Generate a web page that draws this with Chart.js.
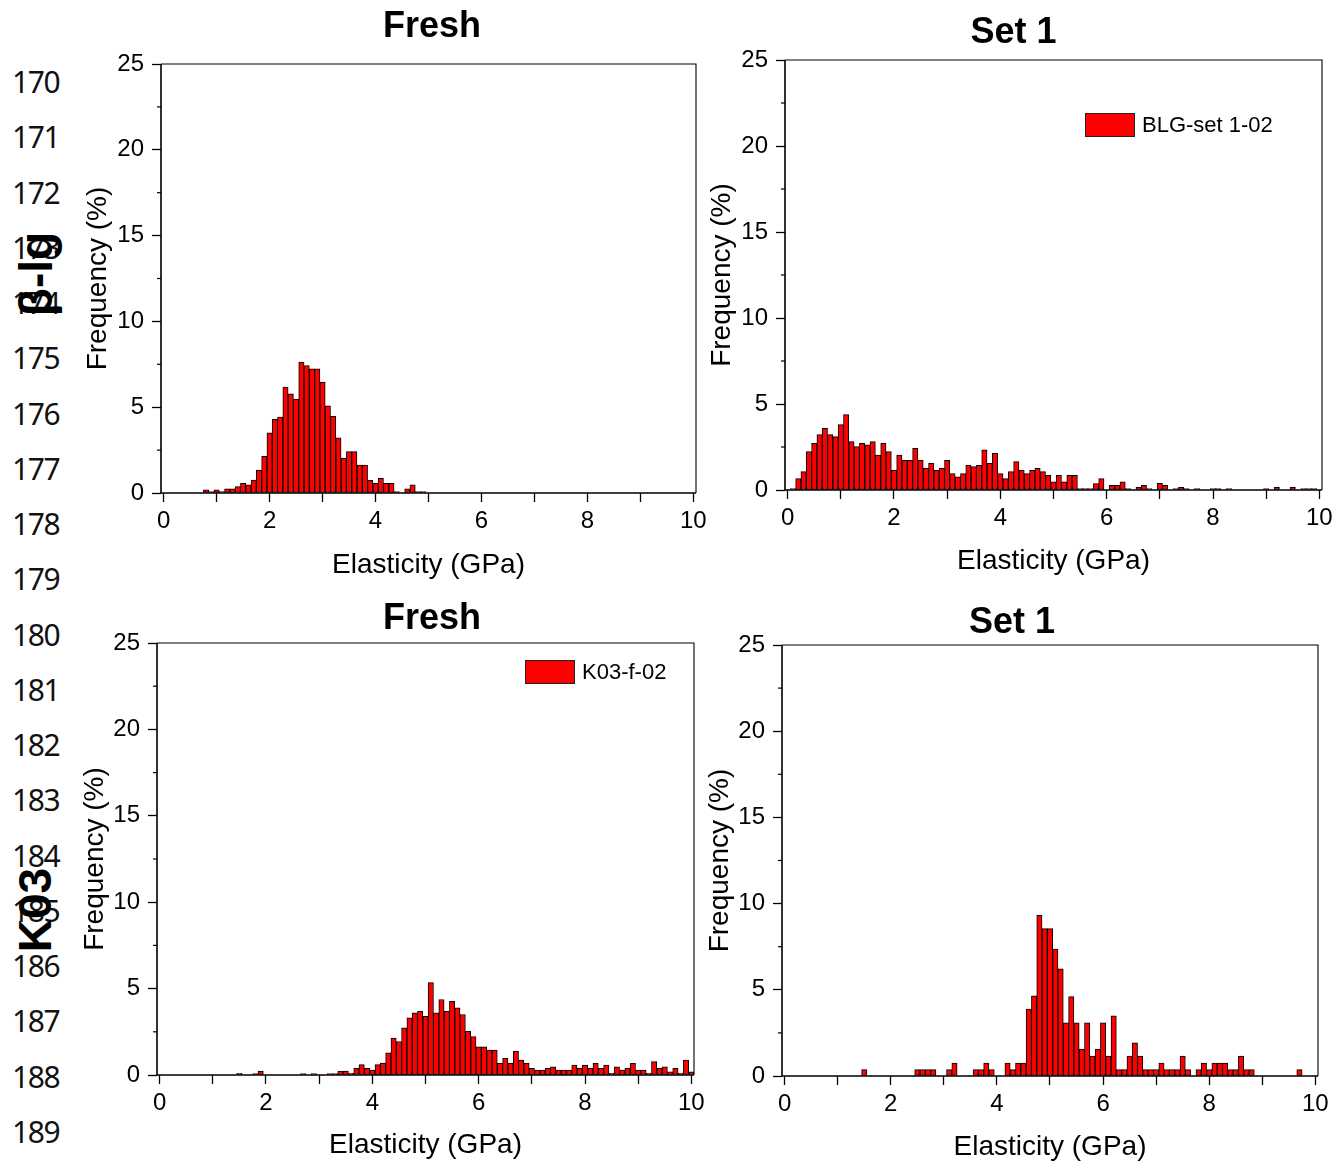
<!DOCTYPE html>
<html>
<head>
<meta charset="utf-8">
<script src="https://cdn.jsdelivr.net/npm/chart.js@4.4.1/dist/chart.umd.min.js"></script>
<style>
  html, body { margin: 0; padding: 0; background: #fff; }
  body { width: 1334px; height: 1162px; position: relative; overflow: hidden; font-family: "Liberation Sans", Arial, sans-serif; }
  .ln { position: absolute; left: 12px; font-family: "Noto Sans", sans-serif; font-size: 30px; line-height: 30px; letter-spacing: -1.4px; color: #111; }
  .tag { position: absolute; font-weight: bold; font-size: 46px; line-height: 46px; white-space: nowrap; transform: translate(-50%, -50%) rotate(-90deg); }
  canvas { position: absolute; }
</style>
</head>
<body>
<div id="lines"></div>
<div class="tag" style="left:36px;top:274px">β-lg</div>
<div class="tag" style="left:35px;top:910px">K03</div>
<canvas id="c1"></canvas>
<canvas id="c2"></canvas>
<canvas id="c3"></canvas>
<canvas id="c4"></canvas>
<script>
// histogram bins are 0.1 GPa wide; each list starts at the centre of its first bin
const freshBlgStart = 0.8;
const freshBlg = [0.18, 0.08, 0.18, 0.08, 0.25, 0.25, 0.37, 0.56, 0.47, 0.76,
  1.34, 2.14, 3.5, 4.3, 4.42, 6.17, 5.78, 5.47, 7.63, 7.43,
  7.24, 7.24, 6.46, 5.08, 4.47, 3.21, 2.04, 2.41, 2.41, 1.63,
  1.63, 0.74, 0.56, 0.86, 0.56, 0.56, 0.08, 0, 0.25, 0.47,
  0.08, 0.08];

const set1BlgStart = 0.1;
const set1Blg = [0.08, 0.66, 1.07, 2.23, 2.71, 3.22, 3.59, 3.22, 3.1, 3.8,
  4.38, 2.81, 2.52, 2.71, 2.62, 2.81, 2.03, 2.71, 2.23, 1.14,
  2.03, 1.72, 1.72, 2.42, 1.72, 1.26, 1.55, 1.14, 1.26, 1.72,
  0.95, 0.76, 0.95, 1.43, 1.36, 1.43, 2.33, 1.55, 2.13, 0.95,
  0.66, 1.07, 1.65, 1.14, 0.95, 1.14, 1.26, 1.07, 0.85, 0.47,
  0.85, 0.47, 0.85, 0.85, 0.08, 0.08, 0.08, 0.37, 0.66, 0,
  0.27, 0.27, 0.47, 0.08, 0, 0.16, 0.27, 0.08, 0, 0.39,
  0.27, 0, 0.08, 0.16, 0.08, 0, 0.08, 0, 0, 0.08,
  0.08, 0, 0.08, 0, 0, 0, 0, 0, 0, 0.08,
  0, 0.16, 0, 0, 0.16, 0, 0.08, 0.08, 0.08];

const freshK03Start = 1.5;
const freshK03 = [0.1, 0, 0, 0.08, 0.23, 0, 0, 0, 0, 0,
  0, 0, 0.08, 0, 0.08, 0, 0, 0.08, 0.08, 0.23,
  0.23, 0.1, 0.38, 0.6, 0.38, 0.29, 0.6, 0.69, 1.29, 2.13,
  1.94, 2.73, 3.31, 3.6, 3.69, 3.4, 5.35, 3.6, 4.37, 3.69,
  4.27, 3.88, 3.5, 2.52, 2.23, 1.63, 1.63, 1.44, 1.44, 0.67,
  0.96, 0.67, 1.37, 0.87, 0.67, 0.38, 0.29, 0.29, 0.38, 0.48,
  0.29, 0.29, 0.29, 0.58, 0.38, 0.58, 0.38, 0.67, 0.38, 0.58,
  0.1, 0.48, 0.29, 0.38, 0.67, 0.29, 0.29, 0.1, 0.77, 0.38,
  0.48, 0.19, 0.38, 0.1, 0.87, 0.19];

const set1K03Start = 1.5;
const set1K03 = [0.37, 0, 0, 0, 0, 0, 0, 0, 0, 0,
  0.37, 0.37, 0.37, 0.37, 0, 0, 0.37, 0.75, 0, 0,
  0, 0.37, 0.37, 0.75, 0.37, 0, 0, 0.75, 0.37, 0.75,
  0.75, 3.88, 4.65, 9.32, 8.55, 8.55, 7.36, 6.22, 3.09, 4.6,
  3.09, 1.54, 3.09, 1.16, 1.54, 3.09, 1.16, 3.49, 0.37, 0.37,
  1.16, 1.93, 1.16, 0.37, 0.37, 0.37, 0.75, 0.37, 0.37, 0.37,
  1.16, 0.37, 0, 0.37, 0.75, 0.37, 0.75, 0.75, 0.75, 0.37,
  0.37, 1.16, 0.37, 0.37, 0, 0, 0, 0, 0, 0,
  0, 0, 0.37];

const xTickValues = [0, 1, 2, 3, 4, 5, 6, 7, 8, 9, 10];
const yTickValues = [0, 5, 10, 15, 20, 25];
const yMinorTicks = [2.5, 7.5, 12.5, 17.5, 22.5];

// line numbers down the left margin
const lineNumbers = [170, 171, 172, 173, 174, 175, 176, 177, 178, 179,
  180, 181, 182, 183, 184, 185, 186, 187, 188, 189];
const lines = document.getElementById('lines');
lineNumbers.forEach((n, i) => {
  const d = document.createElement('div');
  d.className = 'ln';
  d.textContent = n;
  d.style.top = (82 + i * 55.25 - 15) + 'px';
  lines.appendChild(d);
});

Chart.defaults.font.family = '"Liberation Sans", Arial, sans-serif';
Chart.defaults.color = '#000';

function toPoints(start, values) {
  return values.map((v, i) => ({ x: +(start + i * 0.1).toFixed(1), y: v }));
}

// box around the plot plus the short ticks between the labelled y values
const framePlugin = {
  id: 'frame',
  afterDatasetsDraw(chart) {
    const { ctx, chartArea: a, scales: { y } } = chart;
    ctx.save();
    ctx.strokeStyle = '#000';
    ctx.lineWidth = 1.1;
    ctx.beginPath();
    ctx.moveTo(a.left, a.top);
    ctx.lineTo(a.right, a.top);
    ctx.lineTo(a.right, a.bottom);
    ctx.stroke();
    ctx.lineWidth = 1.6;
    ctx.beginPath();
    ctx.moveTo(a.left, a.top);
    ctx.lineTo(a.left, a.bottom);
    ctx.lineTo(a.right, a.bottom);
    ctx.stroke();
    ctx.lineWidth = 1.2;
    yMinorTicks.forEach(v => {
      const py = y.getPixelForValue(v);
      ctx.beginPath();
      ctx.moveTo(a.left - 4, py);
      ctx.lineTo(a.left, py);
      ctx.stroke();
    });
    ctx.restore();
  }
};

// legend swatch drawn inside the plot
const boxLegendPlugin = {
  id: 'boxLegend',
  afterDraw(chart, args, opts) {
    if (!opts || opts.dx === undefined) return;
    const { ctx, chartArea: a } = chart;
    const ds = chart.data.datasets[0];
    const bx = a.left + opts.dx, by = a.top + opts.dy;
    ctx.save();
    ctx.fillStyle = ds.backgroundColor;
    ctx.fillRect(bx, by, 50, 24);
    ctx.strokeStyle = '#222';
    ctx.lineWidth = 1;
    ctx.strokeRect(bx + 0.5, by + 0.5, 49, 23);
    ctx.fillStyle = '#000';
    ctx.font = '22px "Liberation Sans", Arial, sans-serif';
    ctx.textBaseline = 'middle';
    ctx.fillText(ds.label, bx + 57, by + 13);
    ctx.restore();
  }
};

function makePanel(cfg) {
  const canvas = document.getElementById(cfg.id);
  canvas.width = cfg.w;
  canvas.height = cfg.h;
  canvas.style.left = cfg.left + 'px';
  canvas.style.top = cfg.top + 'px';
  return new Chart(canvas, {
    type: 'bar',
    data: {
      datasets: [{
        label: cfg.label,
        data: toPoints(cfg.start, cfg.values),
        backgroundColor: '#ff0000',
        borderColor: '#000',
        borderWidth: 1,
        borderSkipped: false,
        barPercentage: 1,
        categoryPercentage: 1
      }]
    },
    options: {
      responsive: false,
      animation: false,
      events: [],
      layout: { padding: { left: 0, right: cfg.padRight, top: 0, bottom: 0 } },
      plugins: {
        legend: { display: false },
        tooltip: { enabled: false },
        title: {
          display: true,
          text: cfg.title,
          color: '#000',
          font: { size: 36, weight: 'bold' },
          padding: { top: cfg.titleTop, bottom: cfg.titleBottom }
        },
        boxLegend: cfg.legend || {}
      },
      scales: {
        x: {
          type: 'linear',
          min: -0.05,
          max: 10.05,
          offset: false,
          border: { display: false },
          grid: { drawOnChartArea: false, offset: false, tickLength: 9, tickWidth: 1.3, tickColor: '#000' },
          ticks: {
            font: { size: 24 },
            padding: 5,
            maxRotation: 0,
            autoSkip: false,
            callback: v => (v % 2 === 0 ? String(v) : '')
          },
          title: { display: true, text: 'Elasticity (GPa)', font: { size: 28 }, padding: { top: 0, bottom: 0 } },
          afterBuildTicks: s => { s.ticks = xTickValues.map(v => ({ value: v })); },
          afterFit: s => { s.height = cfg.xAxisHeight; s.paddingLeft = 0; s.paddingRight = 0; }
        },
        y: {
          min: 0,
          max: 25,
          border: { display: false },
          grid: { drawOnChartArea: false, tickLength: 9, tickWidth: 1.3, tickColor: '#000' },
          ticks: { font: { size: 24 }, padding: 8 },
          title: { display: true, text: 'Frequency (%)', font: { size: 28 }, padding: { top: 0, bottom: 0 } },
          afterBuildTicks: s => { s.ticks = yTickValues.map(v => ({ value: v })); },
          afterFit: s => { s.width = cfg.yAxisWidth; s.paddingTop = 0; s.paddingBottom = 0; }
        },
        pad: {
          type: 'linear',
          axis: 'y',
          position: 'right',
          display: false,
          afterFit: s => { s.width = cfg.padWidth; }
        }
      }
    },
    plugins: [framePlugin, boxLegendPlugin]
  });
}

makePanel({
  id: 'c1', left: 81, top: 0, w: 702, h: 582,
  yAxisWidth: 80, xAxisHeight: 89, padWidth: 87, padRight: 0,
  titleTop: 5.4, titleBottom: 15.4,
  title: 'Fresh', label: 'BLG-f', start: freshBlgStart, values: freshBlg
});

makePanel({
  id: 'c2', left: 705, top: 0, w: 629, h: 578,
  yAxisWidth: 80, xAxisHeight: 88, padWidth: 0, padRight: 12,
  titleTop: 11.4, titleBottom: 5.4,
  title: 'Set 1', label: 'BLG-set 1-02', start: set1BlgStart, values: set1Blg,
  legend: { dx: 300, dy: 53 }
});

makePanel({
  id: 'c3', left: 78, top: 590, w: 708, h: 572,
  yAxisWidth: 79, xAxisHeight: 87, padWidth: 92, padRight: 0,
  titleTop: 7.4, titleBottom: 2.4,
  title: 'Fresh', label: 'K03-f-02', start: freshK03Start, values: freshK03,
  legend: { dx: 368, dy: 17 }
});

makePanel({
  id: 'c4', left: 703, top: 590, w: 631, h: 574,
  yAxisWidth: 79, xAxisHeight: 88, padWidth: 3, padRight: 13,
  titleTop: 11.4, titleBottom: 0.4,
  title: 'Set 1', label: 'K03-set 1', start: set1K03Start, values: set1K03
});
</script>
</body>
</html>
